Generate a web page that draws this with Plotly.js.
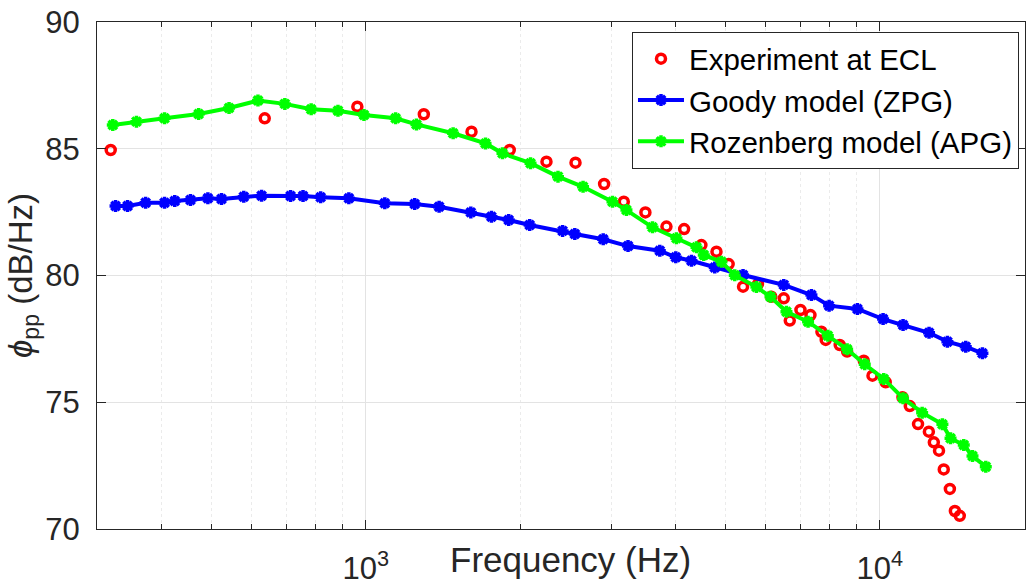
<!DOCTYPE html>
<html>
<head>
<meta charset="utf-8">
<script src="https://cdn.plot.ly/plotly-3.0.1.min.js"></script>
<style>
html,body{margin:0;padding:0;background:#fff;}
#chart{width:1026px;height:586px;}
</style>
</head>
<body>
<div id="chart"></div>
<script>
// ---- data ----
var expFreq = [319, 636, 963, 1297, 1606, 1906, 2247, 2559, 2909, 3177, 3500, 3846, 4163, 4498, 4812, 5082, 5420, 5795, 6152, 6505, 6682, 7010, 7332, 7700, 7850, 8358, 8640, 9309, 9679, 10270, 11070, 11440, 11870, 12460, 12740, 13040, 13320, 13690, 14000, 14310];
var expVal  = [84.95, 86.20, 86.66, 86.36, 85.67, 84.95, 84.49, 84.45, 83.61, 82.91, 82.49, 81.93, 81.83, 81.20, 80.94, 80.45, 79.56, 79.66, 79.16, 79.10, 78.22, 78.64, 78.44, 77.78, 77.46, 77.26, 77.00, 76.64, 76.05, 75.79, 75.20, 74.85, 74.14, 73.84, 73.42, 73.09, 72.35, 71.58, 70.71, 70.52];

var goodyFreq = [326, 344, 373, 406, 425, 456, 493, 524, 579, 627, 714, 755, 817, 927, 1089, 1245, 1389, 1601, 1756, 1897, 2084, 2415, 2551, 2897, 3238, 3733, 4010, 4302, 4775, 5420, 6505, 7363, 7970, 9048, 10150, 11100, 12470, 13540, 14700, 15840];
var goodyVal  = [82.74, 82.74, 82.87, 82.87, 82.94, 82.98, 83.05, 83.02, 83.11, 83.15, 83.14, 83.14, 83.09, 83.05, 82.85, 82.82, 82.71, 82.49, 82.32, 82.19, 81.99, 81.76, 81.64, 81.43, 81.16, 80.98, 80.72, 80.58, 80.32, 80.02, 79.63, 79.23, 78.81, 78.68, 78.28, 78.05, 77.74, 77.39, 77.19, 76.93];

var rozFreq = [322, 358, 406, 473, 542, 617, 696, 783, 883, 992, 1143, 1255, 1479, 1710, 1845, 2092, 2366, 2647, 3020, 3215, 3613, 4022, 4400, 4546, 4920, 5223, 5755, 6129, 6584, 7253, 7925, 8640, 9350, 10180, 11100, 12090, 13240, 13730, 14570, 15150, 16080];
var rozVal  = [85.94, 86.07, 86.20, 86.37, 86.61, 86.90, 86.77, 86.56, 86.50, 86.33, 86.20, 85.96, 85.61, 85.21, 84.82, 84.43, 83.90, 83.50, 82.91, 82.58, 81.90, 81.47, 81.11, 80.81, 80.54, 80.01, 79.55, 79.16, 78.57, 78.18, 77.62, 77.09, 76.50, 75.92, 75.16, 74.59, 74.13, 73.58, 73.31, 72.88, 72.46];

var seriesNames = ['Experiment at ECL', 'Goody model (ZPG)', 'Rozenberg model (APG)'];
var xMajorTicks = [1000, 10000];
var xMajorLabels = ['10<sup>3</sup>', '10<sup>4</sup>'];
var xMinorTicks = [300, 400, 500, 600, 700, 800, 900, 2000, 3000, 4000, 5000, 6000, 7000, 8000, 9000];
var yTicks = [70, 75, 80, 85, 90];

var FONT = 'Liberation Sans, Arial, Helvetica, sans-serif';
var AX = '#262626';

var traces = [
  {
    x: expFreq, y: expVal, name: seriesNames[0], type: 'scatter', mode: 'markers',
    marker: {symbol: 'circle-open', size: 9, color: '#ff0000', line: {width: 3.5, color: '#ff0000'}}
  },
  {
    x: goodyFreq, y: goodyVal, name: seriesNames[1], type: 'scatter', mode: 'lines+markers',
    line: {color: '#0000ff', width: 4},
    marker: {symbol: 'asterisk-open', size: 10, color: '#0000ff', line: {width: 3.5, color: '#0000ff'}}
  },
  {
    x: rozFreq, y: rozVal, name: seriesNames[2], type: 'scatter', mode: 'lines+markers',
    line: {color: '#00ff00', width: 4},
    marker: {symbol: 'asterisk-open', size: 10, color: '#00ff00', line: {width: 3.5, color: '#00ff00'}}
  }
];

var layout = {
  width: 1026, height: 586,
  margin: {l: 97, r: 1, t: 22, b: 57, pad: 0},
  paper_bgcolor: '#ffffff', plot_bgcolor: '#ffffff',
  font: {family: FONT, color: AX},
  showlegend: true,
  legend: {
    x: 0.5765, xanchor: 'left', y: 0.9803, yanchor: 'top',
    bgcolor: '#ffffff', bordercolor: '#262626', borderwidth: 1,
    font: {family: FONT, size: 29.5, color: '#000000'},
    itemwidth: 46, tracegroupgap: 0
  },
  xaxis: {
    type: 'log',
    range: [Math.log10(300), Math.log10(300) + 928 / 514],
    tickmode: 'array', tickvals: xMajorTicks, ticktext: xMajorLabels,
    ticks: 'inside', ticklen: 9, tickwidth: 1, tickcolor: AX,
    ticklabelstandoff: 12,
    tickfont: {family: FONT, size: 31, color: AX},
    showline: true, linecolor: AX, linewidth: 1, mirror: 'allticks',
    showgrid: true, gridcolor: '#e3e3e3', gridwidth: 1,
    zeroline: false,
    minor: {tickvals: xMinorTicks, ticks: 'inside', ticklen: 5, tickcolor: AX,
            showgrid: true, gridcolor: '#ebebeb', griddash: 'dot', gridwidth: 1},
    fixedrange: true
  },
  yaxis: {
    range: [70, 90],
    tickmode: 'array', tickvals: yTicks,
    ticks: 'inside', ticklen: 9, tickwidth: 1, tickcolor: AX,
    ticklabelstandoff: 10,
    tickfont: {family: FONT, size: 31, color: AX},
    showline: true, linecolor: AX, linewidth: 1, mirror: 'allticks',
    showgrid: true, gridcolor: '#e3e3e3', gridwidth: 1,
    zeroline: false,
    title: {text: '<i>ϕ</i><sub>pp</sub> (dB/Hz)', font: {family: FONT, size: 33, color: AX}, standoff: 2},
    fixedrange: true
  },
  annotations: [
    {text: 'Frequency (Hz)', xref: 'paper', yref: 'paper',
     x: (570 - 97) / 928, y: -(559 - 529) / 507, xanchor: 'center', yanchor: 'middle',
     showarrow: false, font: {family: FONT, size: 35, color: AX}}
  ]
};

Plotly.newPlot('chart', traces, layout, {displayModeBar: false, staticPlot: true});
</script>
</body>
</html>
